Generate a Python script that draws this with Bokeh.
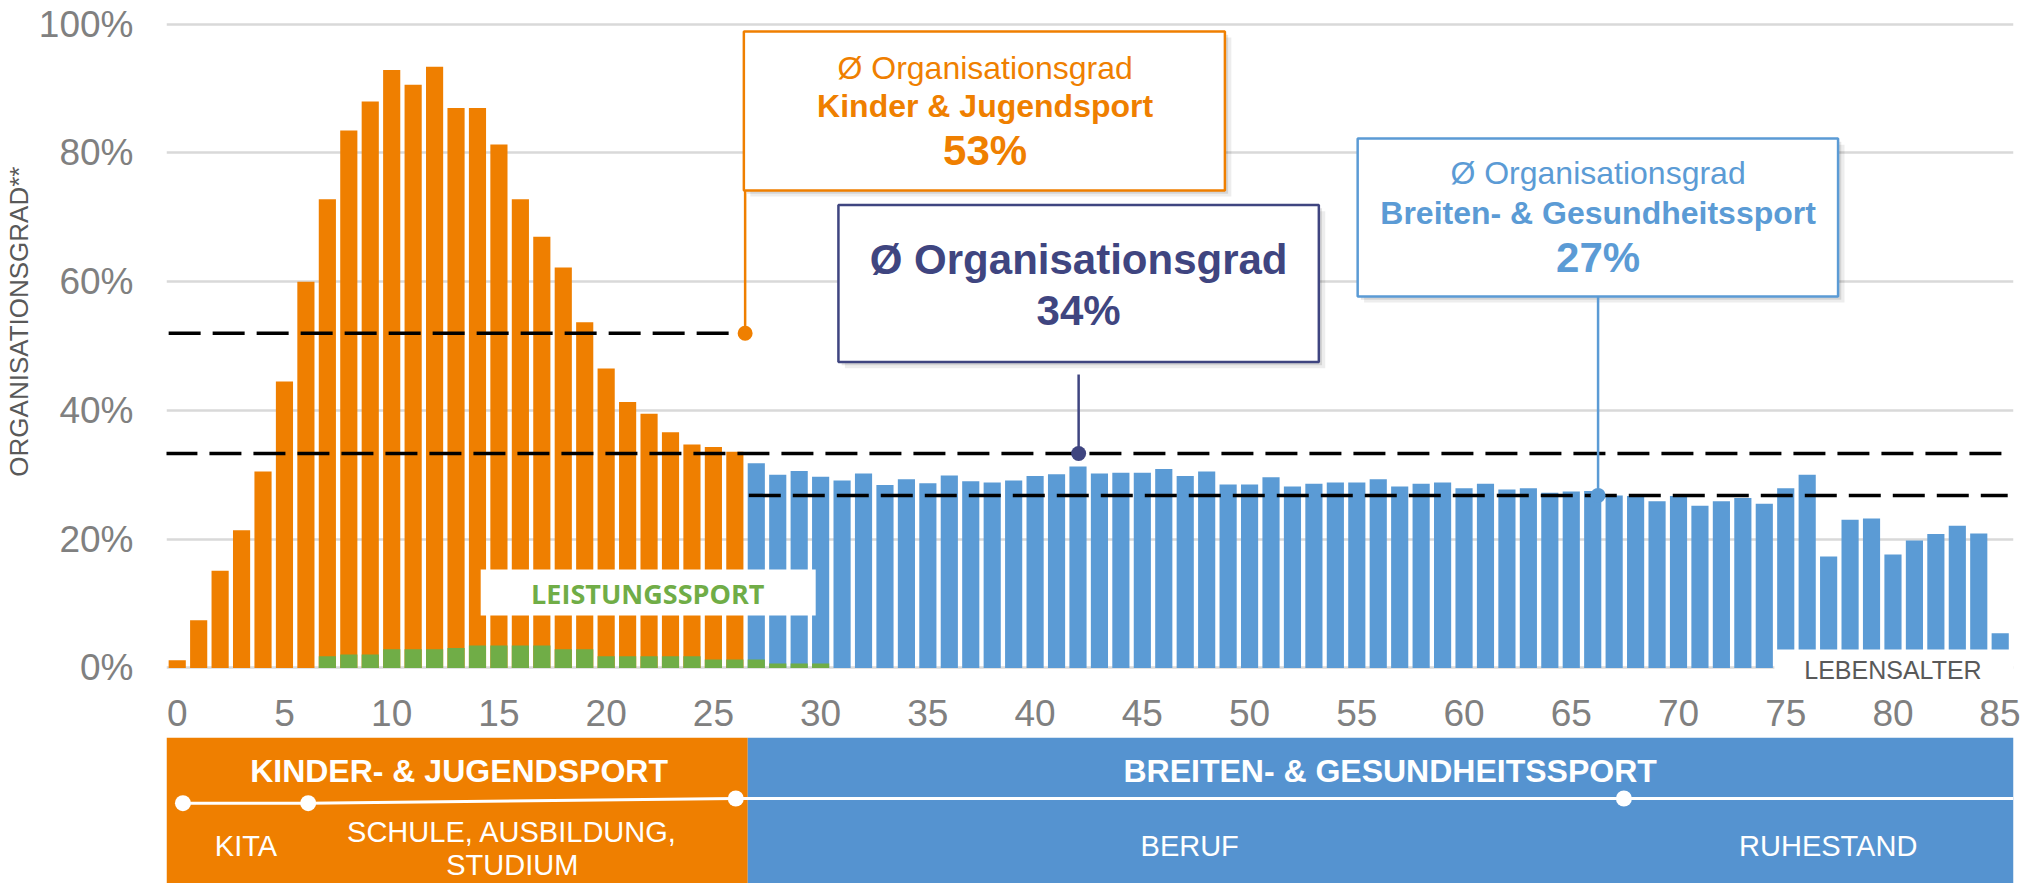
from bokeh.plotting import figure
from bokeh.layouts import column
from bokeh.models import Range1d, FixedTicker, PrintfTickFormatter, Label
from bokeh.core.properties import value
from bokeh.embed import file_html
from bokeh.resources import INLINE

# ---------------- data ----------------
kinder_ages = list(range(0, 27))
kinder_values = [1.2, 7.4, 15.1, 21.4, 30.5, 44.5, 60.0, 72.8, 83.5, 88.0, 92.9, 90.6, 93.4, 87.0,
                 87.0, 81.3, 72.8, 67.0, 62.2, 53.7, 46.5, 41.3, 39.5, 36.6, 34.7, 34.3, 33.6]
breiten_ages = list(range(27, 86))
breiten_values = [31.8, 30.0, 30.6, 29.7, 29.1, 30.2, 28.4, 29.3, 28.7, 29.9, 29.0, 28.8, 29.1, 29.8,
                  30.1, 31.3, 30.2, 30.3, 30.3, 30.9, 29.8, 30.5, 28.5, 28.5, 29.6, 28.2, 28.6, 28.8,
                  28.8, 29.3, 28.2, 28.6, 28.8, 27.9, 28.6, 27.7, 27.9, 27.2, 27.4, 27.5, 26.8, 26.7,
                  25.9, 26.7, 25.2, 25.9, 26.4, 25.5, 27.9, 30.0, 17.3, 23.0, 23.2, 17.6, 19.8, 20.8,
                  22.1, 20.9, 5.4]
leistung_ages = list(range(7, 31))
leistung_values = [1.8, 2.1, 2.1, 2.9, 2.9, 2.9, 3.1, 3.5, 3.5, 3.5, 3.5, 2.9, 2.9, 1.8, 1.8, 1.8,
                   1.8, 1.8, 1.3, 1.3, 1.3, 0.7, 0.7, 0.7]
x_ticks = list(range(0, 86, 5))
y_ticks = [0, 20, 40, 60, 80, 100]

avg_levels = [52.0, 33.3, 26.8]          # drawn levels of the three dashed average lines
avg_x_start = [-0.4, -0.55, 26.65]
avg_x_end = [26.46, 85.6, 85.35]
avg_labels = ["53%", "34%", "27%"]

phase_dot_ages = [0.27, 6.13, 26.14, 67.7]
phase_split_age = 26.7

# ---------------- styles ----------------
FONT = "Liberation Sans"
ORANGE = "#EF7F00"
BLUE = "#5B9BD5"
PANEL_BLUE = "#5593D0"
GREEN = "#70AD47"
NAVY = "#3F4580"
GRAY = "#808080"
W = 2020
X_END = 85.62
X_END_PANEL = -0.5 + (W - 160) / 21.52

p = figure(width=W, height=737, x_range=Range1d(-0.5, X_END), y_range=Range1d(-3.82, 102.44),
           output_backend="svg", toolbar_location=None, title=None,
           min_border_left=160, min_border_right=7, min_border_top=8, min_border_bottom=45)
p.outline_line_color = None
p.background_fill_color = "white"
p.border_fill_color = "white"

p.yaxis.ticker = FixedTicker(ticks=y_ticks)
p.xaxis.ticker = FixedTicker(ticks=x_ticks)
p.xgrid.visible = False
p.ygrid.ticker = p.yaxis[0].ticker
p.ygrid.grid_line_color = "#D9D9D9"
p.ygrid.grid_line_width = 2.5

for ax in (p.xaxis[0], p.yaxis[0]):
    ax.axis_line_color = None
    ax.major_tick_line_color = None
    ax.minor_tick_line_color = None
    ax.major_tick_out = 0
    ax.major_tick_in = 0
    ax.minor_tick_out = 0
    ax.major_label_text_font = FONT
    ax.major_label_text_font_size = "37px"
    ax.major_label_text_color = GRAY
p.xaxis.major_label_standoff = 7
p.yaxis.formatter = PrintfTickFormatter(format="%d%%")
p.yaxis.major_label_standoff = 33
p.yaxis.axis_label = "\u00a0" * 8 + "ORGANISATIONSGRAD**"
p.yaxis.axis_label_text_font = FONT
p.yaxis.axis_label_text_font_size = "26px"
p.yaxis.axis_label_text_font_style = "normal"
p.yaxis.axis_label_text_color = "#595959"
p.yaxis.axis_label_standoff = 2

# bars
p.vbar(x=kinder_ages, top=kinder_values, width=0.8, fill_color=ORANGE, line_color=None)
p.vbar(x=breiten_ages, top=breiten_values, width=0.8, fill_color=BLUE, line_color=None)
p.vbar(x=leistung_ages, top=leistung_values, width=0.8, fill_color=GREEN, line_color=None)

# white label boxes inside the plot
p.quad(left=[14.15], right=[29.77], bottom=[8.14], top=[15.29], fill_color="white", line_color=None)
p.text(x=[21.94], y=[11.56], text=["LEISTUNGSSPORT"], text_font=value("Open Sans"),
       text_font_size=value("27px"), text_font_style="bold", text_color=GREEN,
       text_align="center", text_baseline="middle")
p.quad(left=[74.47], right=[X_END], bottom=[-3.82], top=[2.86], fill_color="white", line_color=None)
p.add_layout(Label(x=80.0, y=-0.4, text="LEBENSALTER", text_font=FONT, text_font_size="25px",
                   text_color="#595959", text_align="center", text_baseline="middle"))

# dashed average lines
p.segment(x0=avg_x_start, y0=avg_levels, x1=avg_x_end, y1=avg_levels,
          line_color="black", line_width=3.5, line_dash="32 12")

# callout boxes
boxes = [
    # left, right, bottom, top, colour
    (26.42, 48.85, 74.17, 98.87, ORANGE),
    (30.83, 53.23, 47.51, 71.91, NAVY),
    (55.04, 77.44, 57.70, 82.24, BLUE),
]
for (l, r, b, t, c) in boxes:
    p.quad(left=[l + 0.30], right=[r + 0.30], bottom=[b - 0.95], top=[t - 0.95],
           fill_color="black", fill_alpha=0.07, line_color=None)
    p.quad(left=[l + 0.15], right=[r + 0.15], bottom=[b - 0.5], top=[t - 0.5],
           fill_color="black", fill_alpha=0.10, line_color=None)
    p.quad(left=[l], right=[r], bottom=[b], top=[t], fill_color="white",
           line_color=c, line_width=2.5)

# connectors + dots
conn_x = [26.48, 42.03, 66.25]
conn_top = [74.17, 45.58, 57.70]
conn_colors = [ORANGE, NAVY, BLUE]
p.segment(x0=conn_x, y0=conn_top, x1=conn_x, y1=avg_levels, line_color=conn_colors, line_width=2.5)
p.scatter(x=conn_x, y=avg_levels, size=15, fill_color=conn_colors, line_color=None)

# callout texts
def txt(x, y, s, color, size, style):
    p.text(x=[x], y=[y], text=[s], text_font=value(FONT), text_font_size=value(size),
           text_font_style=style, text_color=color, text_align="center", text_baseline="middle")

txt(37.67, 93.12, "Ø Organisationsgrad", ORANGE, "32px", "normal")
txt(37.67, 87.30, "Kinder & Jugendsport", ORANGE, "32px", "bold")
txt(37.67, 80.35, avg_labels[0], ORANGE, "42px", "bold")
txt(42.03, 63.46, "Ø Organisationsgrad", NAVY, "42px", "bold")
txt(42.03, 55.48, avg_labels[1], NAVY, "42px", "bold")
txt(66.25, 76.88, "Ø Organisationsgrad", BLUE, "32px", "normal")
txt(66.25, 70.74, "Breiten- & Gesundheitssport", BLUE, "32px", "bold")
txt(66.25, 63.70, avg_labels[2], BLUE, "42px", "bold")

# ---------------- bottom phase panel ----------------
PANEL_H = 146
q = figure(width=W, height=PANEL_H, x_range=Range1d(-0.5, X_END_PANEL), y_range=Range1d(PANEL_H, 0),
           output_backend="svg", toolbar_location=None, title=None,
           x_axis_location=None, y_axis_location=None,
           min_border_left=160, min_border_right=0, min_border_top=0, min_border_bottom=0)
q.outline_line_color = None
q.grid.visible = False
q.border_fill_color = "white"

q.quad(left=[-0.5], right=[phase_split_age], top=[0], bottom=[PANEL_H], fill_color=ORANGE, line_color=None)
q.quad(left=[phase_split_age], right=[X_END_PANEL], top=[0], bottom=[PANEL_H], fill_color=PANEL_BLUE, line_color=None)

q.line(x=phase_dot_ages + [X_END_PANEL], y=[65.7, 65.7, 61, 61, 61], line_color="white", line_width=3)
q.scatter(x=phase_dot_ages, y=[65.7, 65.7, 61, 61], size=16, fill_color="white", line_color=None)

def ptxt(x, y, s, size, style):
    q.text(x=[x], y=[y], text=[s], text_font=value(FONT), text_font_size=value(size),
           text_font_style=style, text_color="white", text_align="center", text_baseline="middle")

ptxt(13.19, 33.0, "KINDER- & JUGENDSPORT", "32px", "bold")
ptxt(56.76, 33.0, "BREITEN- & GESUNDHEITSSPORT", "32px", "bold")
ptxt(3.22, 108.0, "KITA", "29px", "normal")
ptxt(15.68, 94.0, "SCHULE, AUSBILDUNG,", "29px", "normal")
ptxt(15.68, 127.5, "STUDIUM", "29px", "normal")
ptxt(47.38, 108.0, "BERUF", "29px", "normal")
ptxt(77.26, 108.0, "RUHESTAND", "29px", "normal")

layout = column(p, q, spacing=0)
open("out.html", "w").write(file_html(layout, INLINE))
